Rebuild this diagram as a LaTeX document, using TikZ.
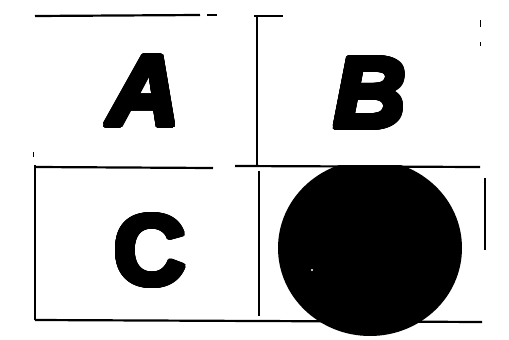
\documentclass[tikz,border=0pt]{standalone}
\usepackage{fontspec}
\usepackage{contour}
\contourlength{2.8pt}
\contournumber{32}
\newfontfamily\heavy{Liberation Sans}
\begin{document}
\begin{tikzpicture}[x=1pt,y=-1pt,
  rule/.style={line width=2.2pt,line cap=butt},
  letter/.style={inner sep=0pt,anchor=base,font=\heavy\bfseries\fontsize{100}{100}\selectfont}]
\useasboundingbox (0,0) rectangle (509,340);
\fill[white] (0,0) rectangle (509,340);
% black disc, clipped at the middle rule
\begin{scope}
  \clip (250,165) rectangle (509,340);
  \fill[black] (370,248) ellipse [x radius=92, y radius=88];
\end{scope}
\fill[white] (312,270) circle (1.2);
% rules
\draw[rule] (35,16) -- (200,15);
\draw[rule] (207,15) -- (217,15);
\draw[rule] (254,16) -- (283,16);
\draw[rule] (257,16) -- (257,166);
\draw[rule] (35,167) -- (213,168);
\draw[rule] (235,166) -- (480,167);
\draw[rule] (259,171) -- (259,316);
\draw[rule] (35,165) -- (35,320);
\draw[rule] (35,320) -- (482,322);
\draw[rule] (485,178) -- (485,250);
\draw[line width=1pt] (480,20) -- (480,27);
\draw[line width=1pt] (480,42) -- (480,46);
\draw[line width=1pt] (33,152) -- (33,157);
% letters
\node[letter,font=\heavy\bfseries\itshape\fontsize{100}{100}\selectfont] (A) at (144,125.5) {\contour{black}{A}};
\node[letter,font=\heavy\bfseries\itshape\fontsize{100}{100}\selectfont] (B) at (370,127.5) {\contour{black}{B}};
\node[letter] (C) at (150,285) {\contour{black}{C}};
\end{tikzpicture}
\end{document}
